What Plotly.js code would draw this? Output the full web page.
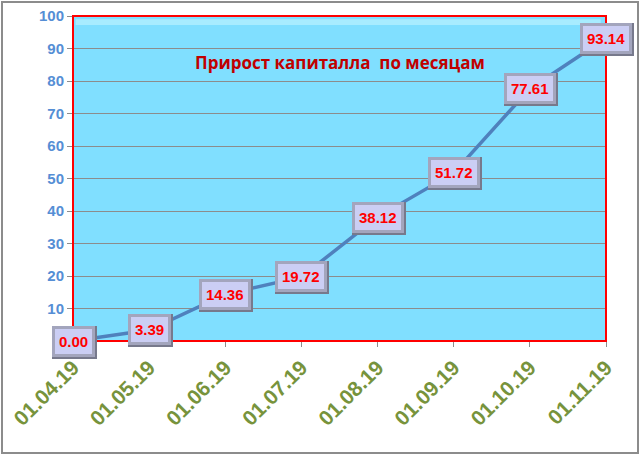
<html>
<head>
<meta charset="utf-8" />
<title>Прирост капиталла</title>
<script src="https://cdn.plot.ly/plotly-3.0.1.min.js"></script>
<style>
body { margin: 0; }
#frame { position: absolute; left: 1px; top: 1px; width: 634px; height: 449px; border: 2px solid #8c8c8c; pointer-events: none; }
</style>
</head>
<body>
<div id="myDiv" style="width:640px;height:454px;"></div>
<div id="frame"></div>
<script>

var dates = ['01.04.19', '01.05.19', '01.06.19', '01.07.19', '01.08.19', '01.09.19', '01.10.19', '01.11.19'];
var capital = [0, 3.39, 14.36, 19.72, 38.12, 51.72, 77.61, 93.14];

var trace1 = {
  x: dates,
  y: capital,
  mode: 'lines',
  type: 'scatter',
  line: { color: '#4f81bd', width: 3.5 },
  cliponaxis: false,
  hoverinfo: 'skip'
};

var labels = [];
for (var i = 0; i < dates.length; i++) {
  // shadow box under the label
  labels.push({
    x: dates[i], y: capital[i], xref: 'x', yref: 'y',
    text: capital[i].toFixed(2), showarrow: false,
    font: { family: 'Liberation Sans', size: 15, color: 'rgba(0,0,0,0)' },
    bgcolor: '#77798c', borderpad: 8, borderwidth: 0,
    xshift: 1, yshift: -1
  });
  labels.push({
    x: dates[i], y: capital[i], xref: 'x', yref: 'y',
    text: '<b>' + capital[i].toFixed(2) + '</b>', showarrow: false,
    font: { family: 'Liberation Sans', size: 15, color: '#ff0000' },
    bgcolor: '#cbcef4', bordercolor: '#a3a5bd', borderwidth: 3, borderpad: 4
  });
}

labels.push({
  x: 0.5, y: 0.858, xref: 'paper', yref: 'paper', yanchor: 'middle',
  text: '<b>Прирост капиталла  по месяцам</b>', showarrow: false,
  font: { family: 'Open Sans', size: 17, color: '#c00000' }
});

var layout = {
  width: 640,
  height: 454,
  margin: { l: 73, r: 34, t: 16, b: 113 },
  paper_bgcolor: '#ffffff',
  plot_bgcolor: '#80dfff',
  showlegend: false,
  xaxis: {
    type: 'category',
    range: [0, 7],
    showgrid: false,
    zeroline: false,
    showline: true,
    linecolor: '#e05050',
    linewidth: 1,
    ticks: 'outside',
    ticklen: 5,
    tickcolor: '#8c8c8c',
    tickangle: -45,
    tickfont: { family: 'Liberation Sans', size: 21, color: '#77933c', weight: 'bold' }
  },
  yaxis: {
    range: [0, 100],
    dtick: 10,
    showgrid: true,
    gridcolor: '#8c8c8c',
    gridwidth: 1,
    zeroline: false,
    showline: true,
    linecolor: '#8c8c8c',
    ticks: 'outside',
    ticklen: 5,
    tickcolor: '#8c8c8c',
    tickfont: { family: 'Liberation Sans', size: 15, color: '#558ed5', weight: 'bold' }
  },
  shapes: [
    { type: 'rect', xref: 'paper', yref: 'paper', x0: 0, x1: 1, y0: 0, y1: 1,
      line: { color: '#ff0000', width: 2 }, layer: 'above' },
    { type: 'rect', xref: 'paper', yref: 'paper', x0: 0.005, x1: 0.99, y0: 0.972, y1: 0.99,
      fillcolor: '#a8ecff', line: { width: 0 }, layer: 'below' }
  ],
  annotations: labels
};

Plotly.newPlot('myDiv', [trace1], layout, { displayModeBar: false, staticPlot: true });

</script>
</body>
</html>
